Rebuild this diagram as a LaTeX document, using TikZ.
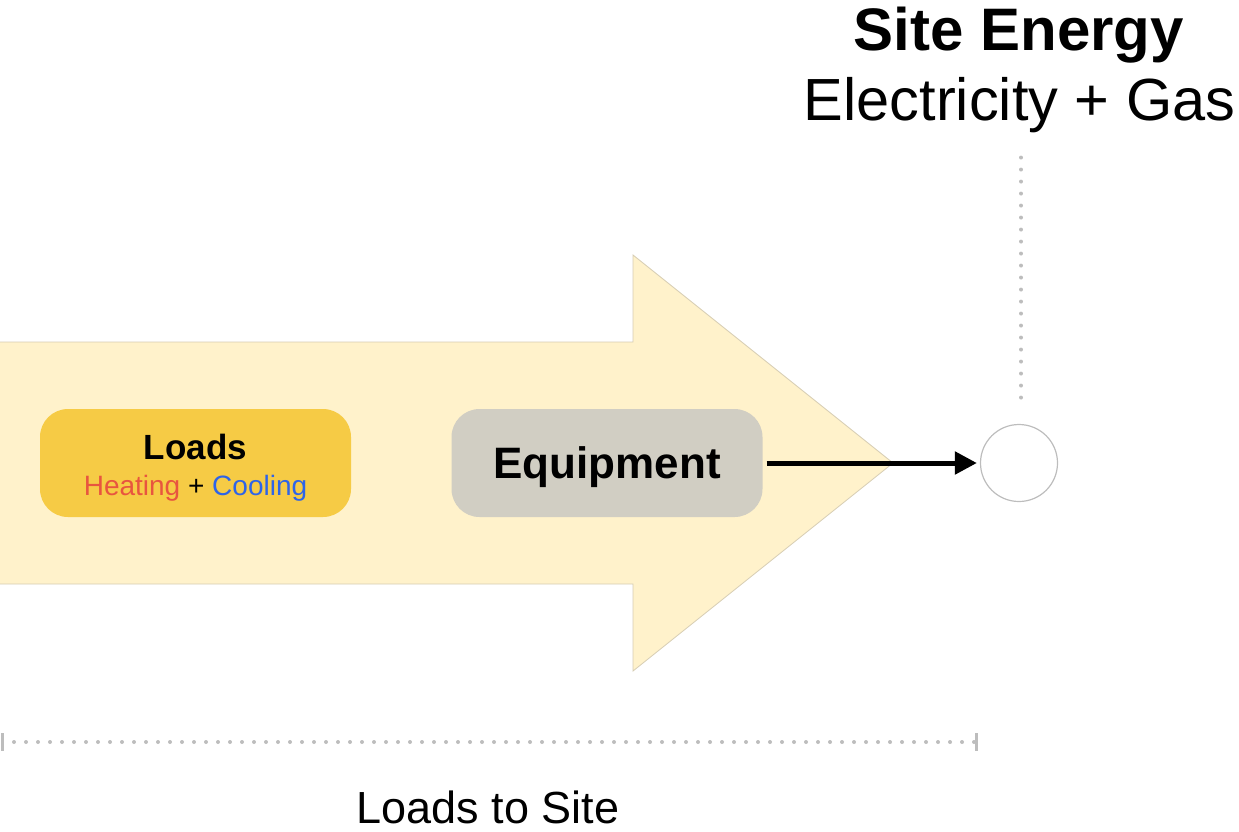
\documentclass[tikz,border=0pt]{standalone}
\usepackage{fontspec}
\setmainfont{Liberation Sans}
\usepackage{xcolor}
\usetikzlibrary{positioning, arrows.meta, calc}

\definecolor{flowfill}{HTML}{FFF2CB}
\definecolor{flowline}{HTML}{D6CDB3}
\definecolor{loadsfill}{HTML}{F6CB45}
\definecolor{equipfill}{HTML}{D1CEC3}
\definecolor{heatred}{HTML}{E8553F}
\definecolor{coolblue}{HTML}{2E64E8}
\definecolor{dotgray}{HTML}{BDBDBD}

\begin{document}
\begin{tikzpicture}[
  x=1pt, y=-1pt,
  >=Stealth,
  fsize/.style={font=\fontsize{#1}{#1}\selectfont},
  roundbox/.style={rounded corners=28pt, minimum width=311pt,
               minimum height=108pt, inner sep=0pt, align=center},
  loadsbox/.style={roundbox, fill=loadsfill},
  equipbox/.style={roundbox, fill=equipfill},
  dotline/.style={dotgray, line width=4pt, line cap=round,
               dash pattern=on 0pt off 12pt}
]
\useasboundingbox (0,0) rectangle (1239,831);

% ---- Big flow arrow ----
\fill[flowfill] (0,342) -- (633,342) -- (633,255) -- (893,463)
  -- (633,671) -- (633,584) -- (0,584) -- cycle;
\draw[flowline, line width=0.8pt] (0,342) -- (633,342) -- (633,255)
  -- (893,463) -- (633,671) -- (633,584) -- (0,584);

% ---- Boxes ----
\node[loadsbox] (loads) at (195.5,463)
  {\rule{0pt}{35pt}{\fontsize{35}{35}\selectfont\bfseries Loads}\\[15pt]
   {\fontsize{28}{28}\selectfont\textcolor{heatred}{Heating} +
    \textcolor{coolblue}{Cooling}}};

\node[equipbox, fsize=44, text depth=0pt] (equip) at (607,463)
  {\bfseries Equipment};

% ---- Site energy point ----
\node[draw=dotgray, line width=1.2pt, circle, minimum size=77pt,
      inner sep=0pt] (site) at (1019,463) {};

\node[fsize=60, inner sep=0pt, anchor=base] (siteTitle) at (1019,50)
  {\bfseries Site Energy};
\node[fsize=59.5, inner sep=0pt, anchor=base] (siteSub) at (1019.5,120)
  {Electricity + Gas};

% ---- Connectors ----
\draw[line width=5pt, -{Triangle[length=22pt, width=22pt]},
      shorten <=4pt, shorten >=3pt] (equip.east) -- (site.west);
\draw[dotline, shorten <=25pt, shorten >=24pt]
  ([xshift=2pt]siteSub.south -| site.north) -- ([xshift=2pt]site.north);

% ---- Scale bracket ----
\coordinate (scaleL) at (2,742);
\coordinate (scaleR) at (976,742);
\draw[dotline] ($(scaleL)+(12,0)$) -- (scaleR);
\draw[dotgray, line width=3pt] ($(scaleL)+(0,-9)$) -- ($(scaleL)+(0,9)$);
\draw[dotgray, line width=3pt] ($(scaleR)+(0,-9)$) -- ($(scaleR)+(0,9)$);

\node[fsize=45, inner sep=0pt, anchor=base] (scaleLabel) at (488,823)
  {Loads to Site};

\end{tikzpicture}
\end{document}
